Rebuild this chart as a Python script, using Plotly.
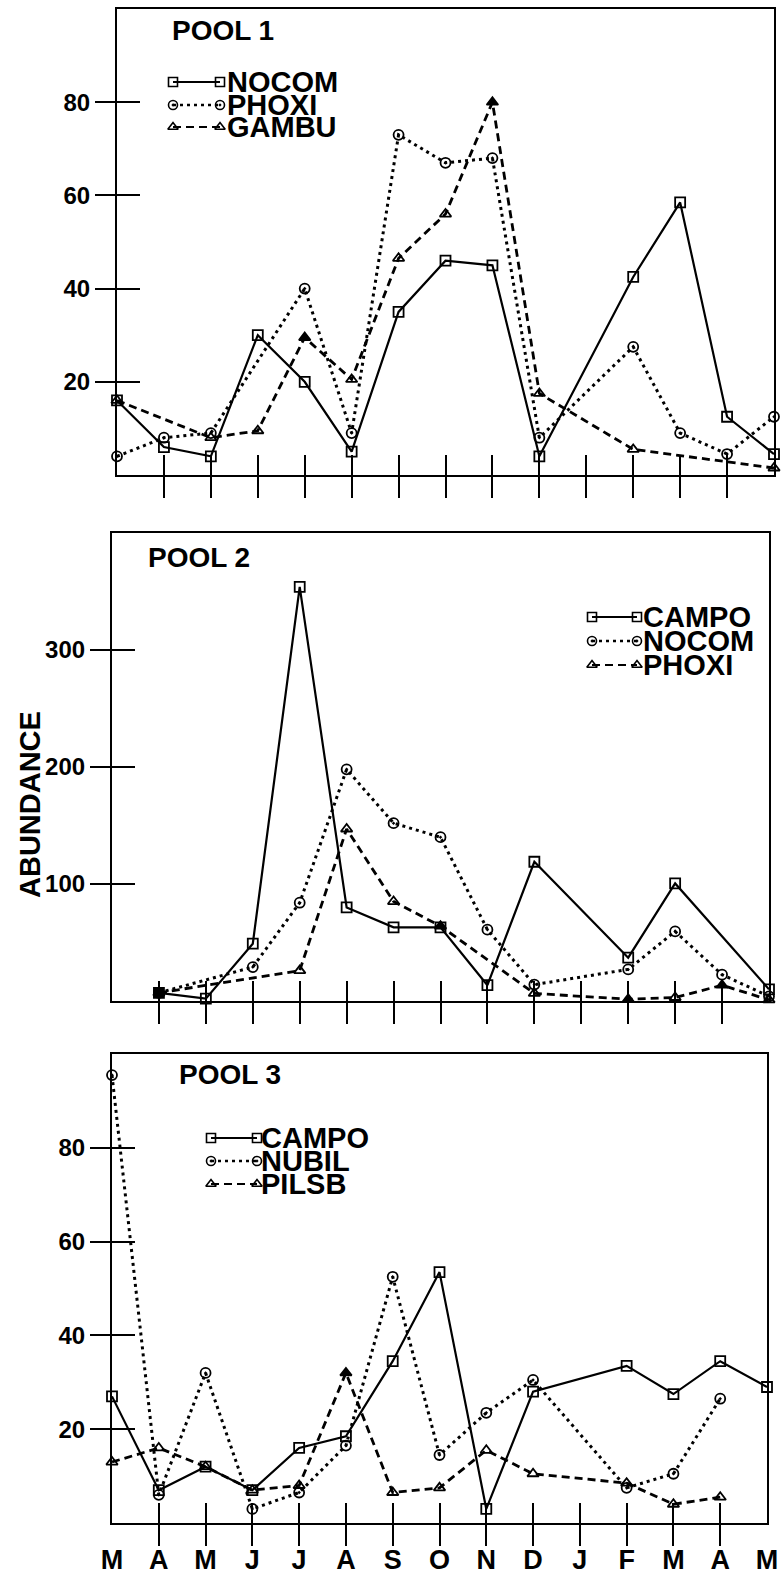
import plotly.graph_objects as go

W, H = 781, 1578

# ---------------- data ----------------
months = ["M", "A", "M", "J", "J", "A", "S", "O", "N", "D", "J", "F", "M", "A", "M"]
month_idx = list(range(len(months)))

# Pool 1
p1_nocom = [16, 6, 4, 30, 20, 5, 35, 46, 45, 4, None, 42.5, 58.5, 12.5, 4.5]
p1_phoxi = [4, 8, 9, None, 40, 9, 73, 67, 68, 8, None, 27.5, 9, 4.5, 12.5]
p1_gambu = [16, None, 8, 9.5, 29.5, 20.5, 46.5, 56, 80, 17.5, None, 5.5, None, None, 1.5]

# Pool 2
p2_campo = [None, 7, 2, 49, 354, 80, 63, 63, 13.5, 119, None, 37, 100.5, None, 10]
p2_nocom = [None, 7, None, 29, 84, 198, 152, 140, 61, 14, None, 27, 59.5, 22.5, 4]
p2_phoxi = [None, 7, None, None, 26, 147, 85, 64, None, 6.5, None, 1.5, 3, 13.5, 1]

# Pool 3
p3_campo = [27, 7, 12, 7, 16, 18.5, 34.5, 53.5, 3, 28, None, 33.5, 27.5, 34.5, 29]
p3_nubil = [95.5, 6, 32, 3, 6.5, 16.5, 52.5, 14.5, 23.5, 30.5, None, 7.5, 10.5, 26.5, None]
p3_pilsb = [13, 16, 12, 7, 8, 32, 6.5, 7.5, 15.5, 10.5, None, 8.5, 4, 5.5, None]

y_ticks_small = [20, 40, 60, 80]
y_ticks_p2 = [100, 200, 300]
inner_ticks = month_idx[1:-1]

# month indices whose marker appears solid (ink-filled) in the original
p1_gambu_filled = [4, 8]
p2_campo_filled = [1]
p2_phoxi_filled = [1, 7, 11, 13]
p3_pilsb_filled = [5]

# ---------------- styles ----------------
FONT = "Liberation Sans, Arial, sans-serif"
STYLES = {
    "solid": dict(dash="solid", width=2.2, symbol="square", size=10),
    "dot": dict(dash="3px,4px", width=3.0, symbol="circle", size=10),
    "dash": dict(dash="8px,5px", width=2.8, symbol="triangle-up", size=10),
}

panels = [
    dict(title="POOL 1", title_pos=(170, 30), xdom=(117, 774), ydom=(9, 475),
         yrange=[0, 100], yticks=y_ticks_small,
         series=[("NOCOM", p1_nocom, "solid", []), ("PHOXI", p1_phoxi, "dot", []),
                 ("GAMBU", p1_gambu, "dash", p1_gambu_filled)],
         legend=dict(x0=173, x1=220, rows=(82, 105, 127), tx=225)),
    dict(title="POOL 2", title_pos=(146, 557), xdom=(112, 769), ydom=(533, 1001),
         yrange=[0, 400], yticks=y_ticks_p2,
         series=[("CAMPO", p2_campo, "solid", p2_campo_filled), ("NOCOM", p2_nocom, "dot", []),
                 ("PHOXI", p2_phoxi, "dash", p2_phoxi_filled)],
         legend=dict(x0=592, x1=637, rows=(617, 641, 665), tx=641)),
    dict(title="POOL 3", title_pos=(177, 1074), xdom=(112, 767), ydom=(1054, 1523),
         yrange=[0, 100], yticks=y_ticks_small,
         series=[("CAMPO", p3_campo, "solid", []), ("NUBIL", p3_nubil, "dot", []),
                 ("PILSB", p3_pilsb, "dash", p3_pilsb_filled)],
         legend=dict(x0=211, x1=257, rows=(1138, 1161, 1184), tx=259)),
]


def xref(k):
    return "x" if k == 1 else f"x{k}"


def yref(k):
    return "y" if k == 1 else f"y{k}"


def xkey(k):
    return "xaxis" if k == 1 else f"xaxis{k}"


def ykey(k):
    return "yaxis" if k == 1 else f"yaxis{k}"


def open_symbol(base, dot):
    return base + ("-open-dot" if dot else "-open")


fig = go.Figure()
layout = dict(
    width=W, height=H, margin=dict(l=0, r=0, t=0, b=0, autoexpand=False),
    paper_bgcolor="white", plot_bgcolor="rgba(0,0,0,0)", showlegend=False,
    font=dict(family=FONT, color="black"),
)
annotations = []

LEG = 8  # legend glyph layer axes id

for i, p in enumerate(panels, start=1):
    xd = [p["xdom"][0] / W, p["xdom"][1] / W]
    yd = [1 - p["ydom"][1] / H, 1 - p["ydom"][0] / H]
    # base axes: frame + outside ticks
    layout[xkey(i)] = dict(
        domain=xd, range=[0, 14], anchor=yref(i), showgrid=False, zeroline=False,
        showline=True, linewidth=2.2, linecolor="black", mirror=True, automargin=False,
        ticks="outside", ticklen=21, tickwidth=2, tickcolor="black",
        tickmode="array", tickvals=inner_ticks, showticklabels=False, fixedrange=True)
    layout[ykey(i)] = dict(
        domain=yd, range=p["yrange"], anchor=xref(i), showgrid=False, zeroline=False,
        showline=True, linewidth=2.2, linecolor="black", mirror=True, automargin=False,
        ticks="outside", ticklen=20, tickwidth=2.2, tickcolor="black",
        tickmode="array", tickvals=p["yticks"],
        tickfont=dict(family=FONT, size=24, color="black", weight="bold"),
        fixedrange=True)
    # overlay axes: inside part of the crossing ticks
    ox, oy = i + 3, i + 3
    layout[xkey(ox)] = dict(
        overlaying=xref(i), anchor=yref(i), range=[0, 14], showgrid=False, zeroline=False,
        showline=False, ticks="inside", ticklen=20, tickwidth=2, tickcolor="black",
        automargin=False,
        tickmode="array", tickvals=inner_ticks, showticklabels=False, fixedrange=True)
    layout[ykey(oy)] = dict(
        overlaying=yref(i), anchor=xref(i), side="left", range=p["yrange"], showgrid=False,
        zeroline=False, showline=False, ticks="inside", ticklen=23, tickwidth=2.2,
        automargin=False,
        tickcolor="black", tickmode="array", tickvals=p["yticks"], showticklabels=False,
        fixedrange=True)
    fig.add_trace(go.Scatter(x=[], y=[], xaxis=xref(ox), yaxis=yref(i), showlegend=False, hoverinfo="skip"))
    fig.add_trace(go.Scatter(x=[], y=[], xaxis=xref(i), yaxis=yref(oy), showlegend=False, hoverinfo="skip"))

    # data series
    for name, vals, st, filled in p["series"]:
        s = STYLES[st]
        symbols = [s["symbol"] if k in filled else open_symbol(s["symbol"], st == "dot")
                   for k in month_idx]
        fig.add_trace(go.Scatter(
            x=month_idx, y=vals, name=name, mode="lines+markers", connectgaps=True,
            xaxis=xref(i), yaxis=yref(i), cliponaxis=False,
            line=dict(color="black", width=s["width"], dash=s["dash"]),
            marker=dict(symbol=symbols, size=s["size"], color="black",
                        line=dict(color="black", width=1.8)),
            showlegend=False))

    # panel title
    tx, ty = p["title_pos"]
    annotations.append(dict(
        text=p["title"], xref="paper", yref="paper", x=tx / W, y=1 - ty / H,
        xanchor="left", yanchor="middle", showarrow=False,
        font=dict(family=FONT, size=28, color="black", weight="bold")))

    # legend: sample line with markers at both ends + label
    lg = p["legend"]
    for (name, vals, st, _f), ry in zip(p["series"], lg["rows"]):
        s = STYLES[st]
        fig.add_trace(go.Scatter(
            x=[lg["x0"], lg["x1"]], y=[ry, ry], mode="lines+markers",
            xaxis=xref(LEG), yaxis=yref(LEG), showlegend=False, hoverinfo="skip",
            line=dict(color="black", width=s["width"] * 0.8, dash=s["dash"]),
            marker=dict(symbol=open_symbol(s["symbol"], st == "dot"), size=9, color="black",
                        line=dict(color="black", width=1.6))))
        annotations.append(dict(
            text=name, xref="paper", yref="paper", x=lg["tx"] / W, y=1 - ry / H,
            xanchor="left", yanchor="middle", showarrow=False,
            font=dict(family=FONT, size=29, color="black", weight="bold")))

# month labels under the bottom panel (ticks only at inner months)
layout[xkey(7)] = dict(
    overlaying="x3", anchor="y3", range=[0, 14], showgrid=False, zeroline=False,
    showline=False, ticks="outside", ticklen=13, tickcolor="rgba(0,0,0,0)", automargin=False,
    tickmode="array", tickvals=month_idx, ticktext=months,
    tickfont=dict(family=FONT, size=27, color="black", weight="bold"), fixedrange=True)
fig.add_trace(go.Scatter(x=[], y=[], xaxis="x7", yaxis="y3", showlegend=False, hoverinfo="skip"))

# legend glyph layer spanning the whole figure in pixel units
layout[xkey(LEG)] = dict(domain=[0, 1], range=[0, W], anchor=yref(LEG), visible=False,
                         fixedrange=True, automargin=False)
layout[ykey(LEG)] = dict(domain=[0, 1], range=[H, 0], anchor=xref(LEG), visible=False,
                         fixedrange=True, automargin=False)

# y axis title
annotations.append(dict(
    text="ABUNDANCE", xref="paper", yref="paper", x=30 / W, y=1 - 805 / H,
    xanchor="center", yanchor="middle", textangle=-90, showarrow=False,
    font=dict(family=FONT, size=29, color="black", weight="bold")))

layout["annotations"] = annotations
fig.update_layout(**layout)
fig.write_html("out.html")
